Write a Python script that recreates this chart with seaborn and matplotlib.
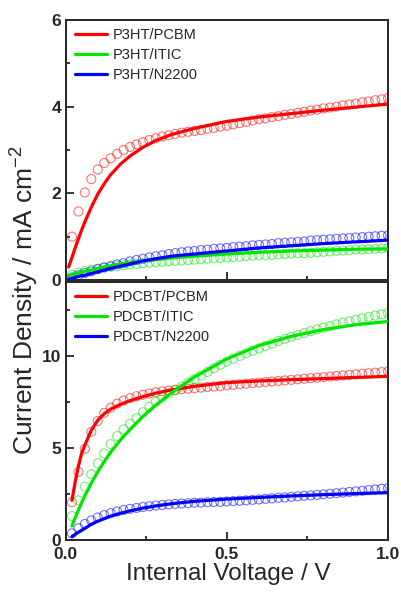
import numpy as np
import matplotlib
matplotlib.use("Agg")
import matplotlib.pyplot as plt
from matplotlib.ticker import MultipleLocator
import seaborn as sns

# measured J-V points (open circles), same voltage grid for all six sets
voltage = [0.02, 0.04, 0.06, 0.08, 0.10, 0.12, 0.14, 0.16, 0.18, 0.20,
           0.22, 0.24, 0.26, 0.28, 0.30, 0.32, 0.34, 0.36, 0.38, 0.40,
           0.42, 0.44, 0.46, 0.48, 0.50, 0.52, 0.54, 0.56, 0.58, 0.60,
           0.62, 0.64, 0.66, 0.68, 0.70, 0.72, 0.74, 0.76, 0.78, 0.80,
           0.82, 0.84, 0.86, 0.88, 0.90, 0.92, 0.94, 0.96, 0.98, 1.00]

p3ht_pcbm = [1.00, 1.58, 2.02, 2.33, 2.55, 2.70, 2.81, 2.91, 3.00, 3.07,
             3.13, 3.18, 3.23, 3.27, 3.31, 3.34, 3.37, 3.40, 3.42, 3.44,
             3.46, 3.49, 3.51, 3.54, 3.56, 3.59, 3.62, 3.65, 3.68, 3.71,
             3.73, 3.76, 3.78, 3.81, 3.83, 3.86, 3.88, 3.91, 3.93, 3.96,
             3.98, 4.00, 4.03, 4.05, 4.07, 4.10, 4.12, 4.15, 4.17, 4.20]
p3ht_itic = [0.12, 0.17, 0.21, 0.24, 0.26, 0.29, 0.31, 0.32, 0.34, 0.36,
             0.37, 0.39, 0.40, 0.41, 0.42, 0.43, 0.44, 0.45, 0.46, 0.47,
             0.48, 0.49, 0.50, 0.51, 0.52, 0.53, 0.54, 0.55, 0.56, 0.57,
             0.57, 0.58, 0.59, 0.60, 0.61, 0.62, 0.62, 0.63, 0.64, 0.65,
             0.66, 0.67, 0.68, 0.69, 0.70, 0.70, 0.71, 0.72, 0.73, 0.74]
p3ht_n2200 = [0.06, 0.11, 0.16, 0.20, 0.25, 0.29, 0.32, 0.36, 0.39, 0.43,
              0.46, 0.49, 0.52, 0.55, 0.57, 0.60, 0.62, 0.64, 0.66, 0.67,
              0.69, 0.70, 0.72, 0.73, 0.74, 0.76, 0.77, 0.78, 0.80, 0.81,
              0.82, 0.83, 0.85, 0.86, 0.87, 0.88, 0.89, 0.91, 0.92, 0.93,
              0.94, 0.95, 0.96, 0.97, 0.98, 0.99, 1.00, 1.01, 1.02, 1.03]

pdcbt_pcbm = [2.05, 3.70, 4.95, 5.87, 6.46, 6.90, 7.18, 7.40, 7.57, 7.70,
              7.80, 7.88, 7.95, 8.02, 8.07, 8.11, 8.15, 8.18, 8.21, 8.24,
              8.27, 8.30, 8.33, 8.36, 8.39, 8.42, 8.45, 8.48, 8.51, 8.54,
              8.57, 8.60, 8.63, 8.66, 8.69, 8.72, 8.75, 8.78, 8.81, 8.84,
              8.87, 8.90, 8.93, 8.96, 8.99, 9.02, 9.05, 9.08, 9.11, 9.15]
pdcbt_itic = [1.30, 2.15, 2.90, 3.57, 4.17, 4.70, 5.20, 5.64, 6.00, 6.30,
              6.60, 6.93, 7.22, 7.50, 7.75, 7.95, 8.12, 8.32, 8.52, 8.72,
              8.92, 9.12, 9.32, 9.51, 9.68, 9.84, 9.99, 10.13, 10.27, 10.40,
              10.53, 10.66, 10.79, 10.91, 11.02, 11.13, 11.23, 11.33, 11.43, 11.52,
              11.61, 11.70, 11.79, 11.87, 11.95, 12.03, 12.11, 12.18, 12.25, 12.32]
pdcbt_n2200 = [0.36, 0.64, 0.87, 1.06, 1.22, 1.35, 1.46, 1.55, 1.63, 1.69,
               1.74, 1.79, 1.83, 1.87, 1.90, 1.93, 1.96, 1.98, 2.00, 2.02,
               2.03, 2.05, 2.06, 2.07, 2.09, 2.11, 2.13, 2.15, 2.18, 2.20,
               2.23, 2.26, 2.29, 2.31, 2.34, 2.37, 2.40, 2.42, 2.45, 2.48,
               2.51, 2.54, 2.57, 2.61, 2.64, 2.67, 2.71, 2.74, 2.78, 2.81]

# fitted curves (solid lines)
fit_v_top = [0.01, 0.02, 0.03, 0.04, 0.05, 0.06, 0.08, 0.10, 0.12, 0.14, 0.17,
             0.20, 0.24, 0.28, 0.33, 0.40, 0.50, 0.60, 0.70, 0.80, 0.90, 1.00]
fit_p3ht_pcbm = [0.30, 0.52, 0.74, 0.95, 1.15, 1.34, 1.68, 1.98, 2.22, 2.43, 2.67,
                 2.86, 3.06, 3.22, 3.36, 3.50, 3.66, 3.76, 3.84, 3.92, 3.99, 4.06]
fit_p3ht_itic = [0.10, 0.12, 0.14, 0.16, 0.18, 0.20, 0.23, 0.27, 0.30, 0.33, 0.37,
                 0.40, 0.44, 0.47, 0.51, 0.55, 0.60, 0.64, 0.67, 0.69, 0.71, 0.72]
fit_p3ht_n2200 = [0.02, 0.04, 0.06, 0.08, 0.10, 0.11, 0.15, 0.19, 0.23, 0.27, 0.32,
                  0.37, 0.44, 0.49, 0.55, 0.60, 0.67, 0.74, 0.79, 0.84, 0.88, 0.92]

fit_v_bot = [0.02, 0.03, 0.04, 0.05, 0.06, 0.08, 0.10, 0.12, 0.14, 0.17,
             0.20, 0.24, 0.28, 0.33, 0.40, 0.50, 0.60, 0.70, 0.80, 0.90, 1.00]
fit_pdcbt_pcbm = [2.15, 3.15, 4.00, 4.70, 5.15, 5.95, 6.50, 6.85, 7.10, 7.36,
                  7.56, 7.78, 7.97, 8.15, 8.34, 8.54, 8.63, 8.70, 8.76, 8.82, 8.88]
fit_pdcbt_itic = [0.76, 1.20, 1.62, 2.02, 2.40, 3.08, 3.70, 4.25, 4.76, 5.42,
                  6.00, 6.70, 7.32, 8.00, 8.85, 9.82, 10.55, 11.05, 11.42, 11.68, 11.86]
fit_pdcbt_n2200 = [0.19, 0.31, 0.42, 0.53, 0.63, 0.85, 1.02, 1.16, 1.29, 1.45,
                   1.58, 1.73, 1.85, 1.97, 2.10, 2.22, 2.31, 2.39, 2.46, 2.52, 2.57]

labels_top = ["P3HT/PCBM", "P3HT/ITIC", "P3HT/N2200"]
labels_bot = ["PDCBT/PCBM", "PDCBT/ITIC", "PDCBT/N2200"]
colors = ["#ff0000", "#00e600", "#0000ff"]

sns.set_style("ticks")
plt.rcParams["font.family"] = ["Liberation Sans", "DejaVu Sans"]
plt.rcParams["mathtext.fontset"] = "custom"
plt.rcParams["mathtext.rm"] = "Liberation Sans"
plt.rcParams["mathtext.it"] = "Liberation Sans:italic"

fig = plt.figure(figsize=(4.01, 5.92), dpi=100)
left, width = 65.5 / 401, 322.5 / 401
ax1 = fig.add_axes([left, 1 - 280 / 592, width, 260 / 592])
ax2 = fig.add_axes([left, 1 - 540 / 592, width, 258 / 592])

panels = [
    (ax1, [p3ht_pcbm, p3ht_itic, p3ht_n2200],
     fit_v_top, [fit_p3ht_pcbm, fit_p3ht_itic, fit_p3ht_n2200], labels_top),
    (ax2, [pdcbt_pcbm, pdcbt_itic, pdcbt_n2200],
     fit_v_bot, [fit_pdcbt_pcbm, fit_pdcbt_itic, fit_pdcbt_n2200], labels_bot),
]

for ax, data, fv, fits, labels in panels:
    for y, c in zip(data, colors):
        sns.scatterplot(x=voltage, y=y, ax=ax, marker="o", s=42,
                        facecolor="none", edgecolor=c, linewidth=0.8,
                        alpha=0.55, legend=False, zorder=2)
    for y, c, lab in zip(fits, colors, labels):
        sns.lineplot(x=fv, y=y, ax=ax, color=c, linewidth=2.3,
                     label=lab, zorder=3)
    ax.legend(loc="upper left", frameon=False, fontsize=10.5,
              handlelength=2.2, handletextpad=0.4, labelspacing=0.42,
              borderaxespad=0.0, bbox_to_anchor=(0.011, 0.993))
    ax.set_xlim(0, 1.0)
    ax.xaxis.set_major_locator(MultipleLocator(0.5))
    ax.xaxis.set_minor_locator(MultipleLocator(0.25))
    ax.tick_params(axis="both", which="major", direction="in", length=6, width=1.3)
    ax.tick_params(axis="both", which="minor", direction="in", length=3, width=1.3)
    ax.tick_params(axis="y", which="major", pad=3.2)
    ax.tick_params(axis="x", which="major", pad=5)
    for sp in ax.spines.values():
        sp.set_linewidth(1.4)
    ax.set_xlabel("")
    ax.set_ylabel("")

ax1.set_ylim(0, 6)
ax1.yaxis.set_major_locator(MultipleLocator(2))
ax1.yaxis.set_minor_locator(MultipleLocator(1))
ax1.tick_params(axis="x", labelbottom=False)

ax2.set_ylim(0, 14)
ax2.yaxis.set_major_locator(MultipleLocator(5))
ax2.yaxis.set_minor_locator(MultipleLocator(2.5))
ax2.set_xticks([0, 0.5, 1.0])
ax2.set_xticklabels(["0.0", "0.5", "1.0"])
for t in ax1.get_yticklabels() + ax2.get_yticklabels() + ax2.get_xticklabels():
    t.set_fontweight("bold")
    t.set_fontsize(12.5)

fig.text(228 / 401, 1 - 580 / 592, "Internal Voltage / V", ha="center",
         va="baseline", fontsize=17.5)
fig.text(25 / 401, 1 - 300 / 592, "Current Density / mA cm$^{-2}$", ha="center",
         va="center", rotation=90, fontsize=19)

fig.savefig("out.png", dpi=100)
